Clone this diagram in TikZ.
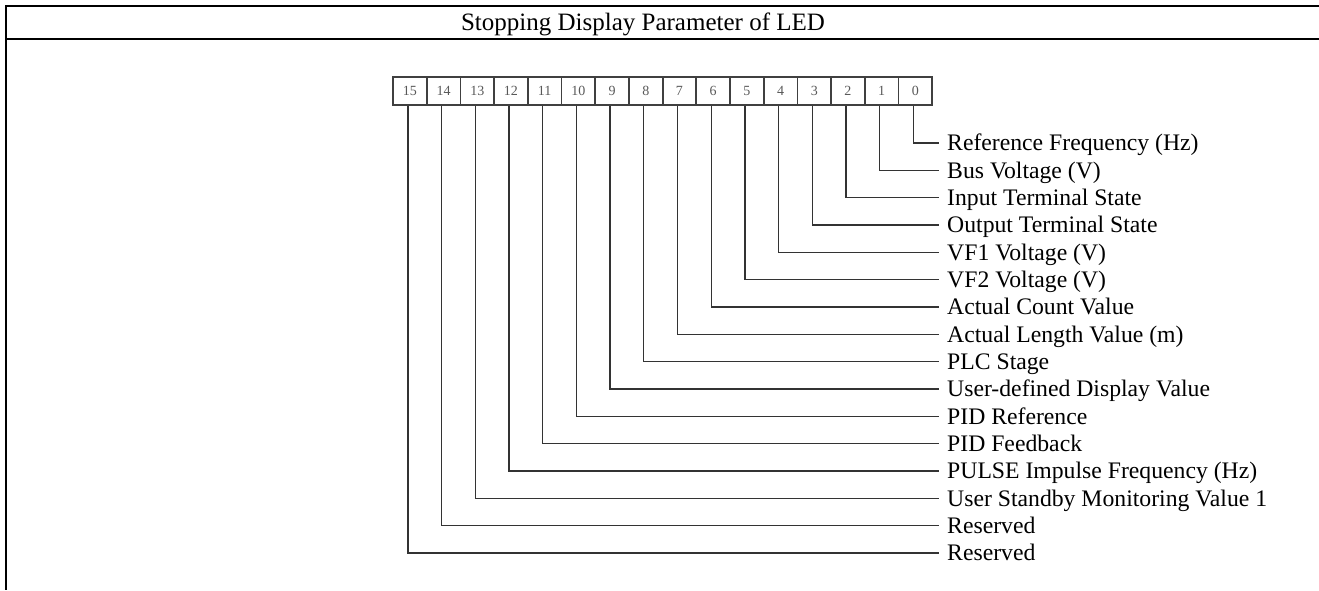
\documentclass[tikz,border=0pt]{standalone}
\usepackage{fontspec}
\setmainfont{Liberation Serif}
\begin{document}
\begin{tikzpicture}[x=1pt,y=-1pt,
  tableline/.style={line width=2pt,black},
  bitcell/.style={draw=black!75,line width=1.8pt,minimum width=33.7pt,minimum height=28pt,inner sep=0pt,
    font=\fontsize{14}{14}\selectfont,text=black!65},
  bitlabel/.style={anchor=west,inner xsep=8pt,inner ysep=0pt,text height=15.6pt,text depth=0pt,
    font=\fontsize{23.7}{26}\selectfont},
  conn/.style={line width=1.3pt,black!80}]
\useasboundingbox (0,0) rectangle (1319,590);
% table
\draw[tableline] (1319,6) -- (6,6) -- (6,590);
\draw[tableline] (6,39) -- (1319,39);
\node[font=\fontsize{25}{30}\selectfont,inner sep=0pt,text height=16.5pt,text depth=0pt] (title) at (643,22.5) {Stopping Display Parameter of LED};
% bit cells
\foreach \i in {0,...,15}{
  \node[bitcell] (b\i) at ({393+33.7*(15-\i)+16.85},91) {\i};
}
% labels
\foreach \i/\t in {0/Reference Frequency (Hz),1/Bus Voltage (V),2/Input Terminal State,3/Output Terminal State,
  4/VF1 Voltage (V),5/VF2 Voltage (V),6/Actual Count Value,7/Actual Length Value (m),8/PLC Stage,
  9/User-defined Display Value,10/PID Reference,11/PID Feedback,12/PULSE Impulse Frequency (Hz),
  13/User Standby Monitoring Value 1,14/Reserved,15/Reserved}{
  \node[bitlabel] (l\i) at (939,{143+27.33*\i}) {\t};
  \draw[conn] ([xshift=-2pt]b\i.south) |- (l\i.west);
}
\end{tikzpicture}
\end{document}
